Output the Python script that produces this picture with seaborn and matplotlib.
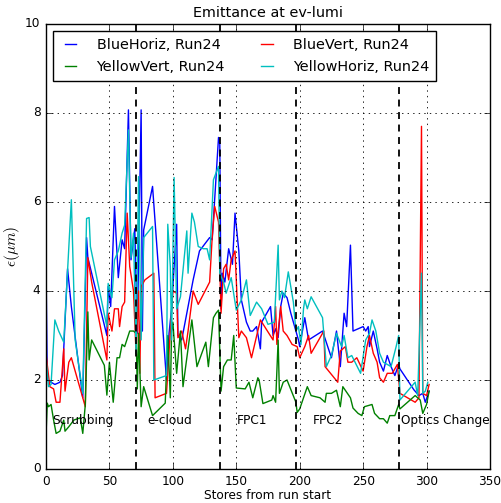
import matplotlib
matplotlib.use("Agg")
import matplotlib.pyplot as plt
import pandas as pd
import seaborn as sns

plt.style.use("classic")
plt.rcParams["figure.facecolor"] = "white"
plt.rcParams["savefig.facecolor"] = "white"
plt.rcParams["font.family"] = ["DejaVu Sans"]
plt.rcParams["font.size"] = 8.7
plt.rcParams["mathtext.fontset"] = "cm"

# BlueHoriz
bh_x = [0, 1, 4, 7, 11, 13, 17, 20, 29, 32, 33, 48, 49, 51, 54, 57, 60, 62, 65, 67,
        70, 72, 75, 76, 77, 84, 95, 97, 99, 103, 104, 107, 112, 116, 121, 129, 131, 136, 137, 138,
        139, 141, 144, 147, 149, 152, 154, 158, 161, 163, 166, 169, 170, 177, 179, 181, 183, 185, 187, 190,
        193, 199, 200, 204, 207, 218, 225, 229, 232, 235, 237, 240, 242, 250, 252, 254, 255, 258, 261, 263,
        266, 269, 272, 275, 278, 279, 290, 294, 297, 299, 302]
bh_y = [4.7, 2.0, 1.95, 1.9, 1.95, 2.1, 4.5, 3.65, 1.6, 5.2, 4.75, 3.0, 4.1, 3.65, 5.9, 4.3, 5.15, 4.95, 8.07, 4.7,
        5.4, 3.05, 8.07, 3.1, 5.37, 6.35, 2.0, 3.05, 3.6, 5.5, 3.0, 2.9, 3.65, 4.25, 4.9, 5.2, 5.15, 7.45, 7.3, 3.6,
        4.4, 4.2, 4.95, 4.6, 5.75, 4.9, 3.8, 3.3, 3.1, 3.1, 3.2, 2.7, 3.3, 3.65, 3.0, 3.15, 2.95, 3.65, 3.95, 3.85,
        3.5, 2.9, 2.75, 3.4, 2.9, 3.1, 2.5, 3.1, 2.3, 3.5, 3.2, 5.03, 3.1, 3.2, 3.1, 3.2, 2.75, 3.1, 2.7, 2.4,
        2.2, 2.55, 2.3, 2.1, 2.35, 2.25, 1.78, 1.65, 1.7, 1.5, 1.75]

# BlueVert
bv_x = [0, 3, 6, 8, 11, 14, 15, 18, 20, 31, 33, 36, 48, 49, 52, 54, 57, 58, 60, 62,
        64, 66, 69, 71, 73, 74, 75, 78, 85, 86, 95, 98, 100, 103, 104, 107, 110, 112, 116, 120,
        129, 131, 133, 136, 138, 140, 142, 144, 146, 149, 152, 154, 158, 162, 169, 179, 181, 182, 185, 187,
        190, 194, 198, 200, 204, 207, 209, 219, 220, 230, 232, 236, 238, 241, 245, 250, 253, 255, 258, 261,
        263, 266, 269, 273, 277, 279, 291, 294, 296, 297, 300, 302]
bv_y = [2.6, 1.85, 1.8, 1.5, 1.5, 2.7, 1.75, 2.4, 2.5, 1.4, 4.75, 4.2, 2.45, 3.5, 3.1, 3.6, 3.6, 3.2, 3.65, 3.75,
        5.75, 4.55, 4.0, 2.6, 4.0, 2.15, 4.1, 4.25, 4.4, 1.6, 1.7, 3.1, 4.0, 3.95, 2.95, 3.1, 2.7, 3.1, 4.0, 3.7,
        4.2, 5.2, 5.9, 5.55, 3.5, 4.5, 4.6, 4.25, 4.7, 4.9, 2.95, 3.1, 2.95, 2.5, 3.35, 2.9, 3.65, 2.8, 3.65, 3.1,
        3.0, 2.8, 2.75, 2.5, 2.75, 3.0, 2.6, 3.1, 2.3, 1.95, 2.65, 2.75, 2.4, 2.4, 2.5, 2.2, 2.75, 3.0, 2.6, 2.4,
        2.05, 1.95, 2.15, 2.15, 2.35, 1.7, 1.5, 1.6, 7.7, 1.7, 1.65, 1.9]

# YellowVert
yv_x = [0, 1, 2, 4, 6, 8, 11, 14, 15, 18, 22, 27, 29, 31, 33, 34, 36, 46, 48, 50,
        53, 56, 58, 60, 62, 66, 69, 71, 72, 73, 75, 77, 84, 94, 96, 98, 99, 100, 103, 106,
        108, 115, 119, 126, 128, 132, 134, 136, 138, 140, 143, 146, 148, 150, 157, 160, 163, 167, 168, 171,
        178, 179, 181, 183, 184, 187, 190, 197, 198, 200, 203, 206, 209, 216, 220, 221, 225, 229, 232, 234,
        240, 242, 246, 249, 251, 257, 259, 263, 266, 269, 271, 275, 278, 279, 291, 295, 297, 300, 302]
yv_y = [0.75, 1.48, 1.4, 1.45, 1.1, 0.8, 0.85, 1.1, 0.85, 0.95, 1.1, 1.15, 0.8, 1.45, 3.53, 2.45, 2.9, 2.33, 1.66, 2.4,
        1.5, 2.5, 2.5, 2.8, 2.75, 3.1, 3.1, 3.05, 1.8, 3.05, 1.4, 1.85, 1.2, 1.48, 3.0, 1.6, 3.1, 3.3, 2.15, 3.1,
        1.85, 3.35, 2.3, 2.85, 2.3, 3.4, 3.5, 3.57, 1.75, 2.3, 2.45, 2.45, 3.0, 1.82, 1.8, 1.95, 1.6, 2.05, 2.0, 1.47,
        1.55, 1.65, 1.5, 2.9, 1.7, 1.95, 2.0, 1.5, 1.27, 1.35, 1.6, 1.85, 1.65, 1.6, 1.5, 1.7, 1.7, 1.77, 1.4, 1.85,
        1.6, 1.37, 1.25, 1.2, 1.4, 1.45, 1.25, 1.13, 1.13, 1.03, 1.2, 1.2, 1.45, 1.35, 1.65, 1.55, 1.25, 1.45, 1.75]

# YellowHoriz
yh_x = [0, 2, 4, 7, 10, 14, 20, 23, 29, 32, 34, 35, 48, 49, 52, 54, 57, 60, 62, 65,
        67, 69, 71, 73, 75, 77, 84, 85, 95, 96, 98, 99, 101, 103, 106, 111, 112, 115, 117, 120,
        124, 127, 129, 132, 136, 137, 140, 142, 146, 150, 154, 158, 161, 166, 170, 175, 180, 183, 184, 186,
        188, 191, 195, 197, 199, 201, 203, 204, 206, 209, 218, 221, 225, 229, 233, 235, 238, 241, 248, 252,
        255, 257, 260, 263, 266, 269, 272, 276, 278, 279, 291, 293, 296, 297, 299, 301]
yh_y = [2.5, 1.85, 1.9, 3.35, 3.1, 2.85, 6.05, 2.9, 1.7, 5.63, 5.65, 5.0, 3.2, 4.17, 3.85, 4.7, 4.9, 5.3, 5.48, 7.62,
        4.75, 5.3, 2.6, 6.57, 2.9, 5.2, 5.45, 2.0, 2.1, 5.5, 4.55, 2.9, 6.55, 3.6, 3.87, 5.35, 4.4, 5.75, 5.55, 5.0,
        4.95, 4.95, 4.7, 6.5, 6.8, 4.4, 4.2, 3.95, 4.3, 3.57, 3.8, 4.25, 3.45, 3.75, 3.6, 3.25, 3.3, 5.03, 3.8, 4.0,
        3.85, 4.43, 3.75, 3.1, 3.2, 2.8, 3.6, 3.8, 3.6, 3.87, 3.4, 2.3, 2.55, 3.05, 2.75, 3.0, 2.5, 2.55, 2.15, 2.9,
        3.05, 3.35, 3.1, 2.6, 2.4, 2.35, 2.3, 2.75, 3.0, 1.55, 1.95, 1.65, 4.4, 1.7, 1.75, 1.95]

series_names = ["BlueHoriz, Run24", "BlueVert, Run24", "YellowVert, Run24", "YellowHoriz, Run24"]
series_colors = ["b", "r", "g", "c"]

# machine changes during the run
change_x = [71, 137, 197, 278]
period_labels = ["Scrubbing", "e-cloud", "FPC1", "FPC2", "Optics Change"]
period_x = [5, 80, 150, 210, 280]

fig = plt.figure(figsize=(5.02, 5.03), dpi=100)
ax = fig.add_axes([0.0916, 0.0676, 0.8845, 0.8847])

all_x = [bh_x, bv_x, yv_x, yh_x]
all_y = [bh_y, bv_y, yv_y, yh_y]
for xs, ys, name, col in zip(all_x, all_y, series_names, series_colors):
    df = pd.DataFrame({"store": xs, "emit": ys})
    sns.lineplot(data=df, x="store", y="emit", color=col, lw=1.0, label=name,
                 estimator=None, sort=False, ax=ax)

for cx in change_x:
    ax.axvline(cx, color="k", ls="--", lw=1.3, dashes=(5, 4))

for lab, px in zip(period_labels, period_x):
    ax.text(px, 1.0, lab, fontsize=8.7)

ax.set_xlim(0, 350)
ax.set_ylim(0, 10)
ax.set_xticks(range(0, 351, 50))
ax.set_yticks(range(0, 11, 2))
ax.grid(True, color="k", ls=":", lw=0.6)
ax.set_title("Emittance at ev-lumi", fontsize=10.4)
ax.set_xlabel("Stores from run start", fontsize=8.7, labelpad=1)
ax.set_ylabel(r"$\epsilon (\mu m)$", fontsize=11)
ax.yaxis.set_label_coords(-0.055, 0.5)

handles, labels = ax.get_legend_handles_labels()
order = [0, 2, 1, 3]
ax.legend([handles[i] for i in order], [labels[i] for i in order], loc="upper left", ncol=2,
          fontsize=10.4, handlelength=1.4, handletextpad=1.1, columnspacing=2.2,
          fancybox=False, edgecolor="k", borderaxespad=0.5, borderpad=0.5)

fig.savefig("out.png", dpi=100)
